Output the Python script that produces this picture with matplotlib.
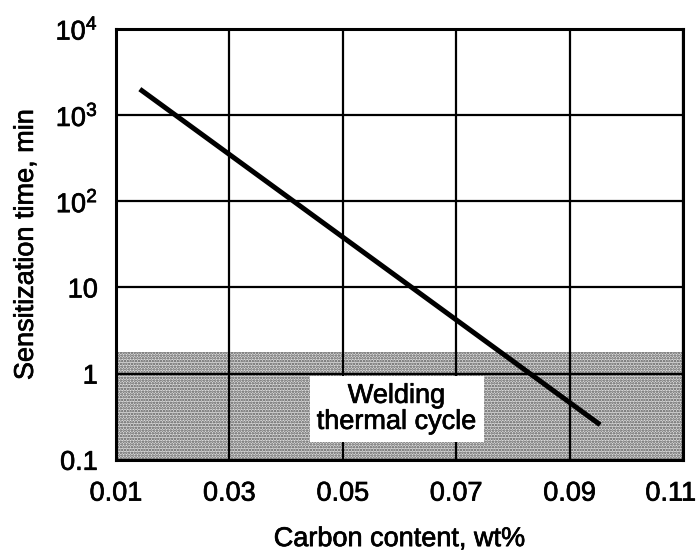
import matplotlib
matplotlib.use("Agg")
import matplotlib.pyplot as plt
import matplotlib.transforms as mtransforms
import matplotlib.patheffects as pe

plt.rcParams['font.family'] = ['Liberation Sans', 'DejaVu Sans']
plt.rcParams['mathtext.fontset'] = 'custom'
plt.rcParams['mathtext.rm'] = 'Liberation Sans'
plt.rcParams['mathtext.default'] = 'regular'
plt.rcParams['hatch.linewidth'] = 1.2
plt.rcParams['hatch.color'] = '#555555'

# sensitization line (carbon wt%, minutes)
carbon = [0.0142, 0.0954]
time_min = [2000, 0.255]

# welding thermal cycle band
band_x = [0.01, 0.11]
band_low = 0.1
band_high = 1.8

xticks = [0.01, 0.03, 0.05, 0.07, 0.09, 0.11]
xtick_labels = ['0.01', '0.03', '0.05', '0.07', '0.09', '0.11']
yticks = [0.1, 1, 10, 100, 1000, 10000]
ytick_labels = ['0.1', '1', '10', '$10^2$', '$10^3$', '$10^4$']

fs = 19.5
heavy = [pe.withStroke(linewidth=0.5, foreground='black')]

fig = plt.figure(figsize=(6.99, 5.56), dpi=100)
ax = fig.add_axes([0.166, 0.173, 0.811, 0.775])

ax.fill_between(band_x, band_low, band_high, facecolor='#dcdcdc',
                edgecolor='#555555', hatch='......', linewidth=0, zorder=1)

ax.set_yscale('log')
ax.set_xlim(0.01, 0.11)
ax.set_ylim(0.1, 10000)
ax.set_xticks(xticks)
ax.set_xticklabels(xtick_labels)
ax.set_yticks(yticks)
ax.set_yticklabels(ytick_labels)
ax.minorticks_off()
ax.tick_params(length=0, labelsize=fs)
ax.tick_params(axis='x', pad=15)
ax.tick_params(axis='y', pad=13)
ax.grid(True, color='black', linewidth=1.6, zorder=2)
ax.set_axisbelow(False)
for sp in ax.spines.values():
    sp.set_linewidth(2.2)
    sp.set_zorder(5)

# pull the last x label in so it stays on the canvas
last = ax.get_xticklabels()[-1]
last.set_transform(last.get_transform() +
                   mtransforms.ScaledTranslation(-12 / 100, 0, fig.dpi_scale_trans))

ax.plot(carbon, time_min, color='black', linewidth=3.6,
        solid_capstyle='butt', zorder=4)

ax.text(0.0595, 0.39, 'Welding\nthermal cycle', fontsize=fs,
        ha='center', va='center', linespacing=1.0, zorder=3,
        path_effects=heavy,
        bbox=dict(facecolor='white', edgecolor='none', pad=5))

ax.set_xlabel('Carbon content, wt%', fontsize=fs, labelpad=14)
ax.set_ylabel('Sensitization time, min', fontsize=fs, labelpad=12)

for t in ax.get_xticklabels() + ax.get_yticklabels() + [ax.xaxis.label, ax.yaxis.label]:
    t.set_path_effects(heavy)

fig.savefig('out.png', dpi=100)
